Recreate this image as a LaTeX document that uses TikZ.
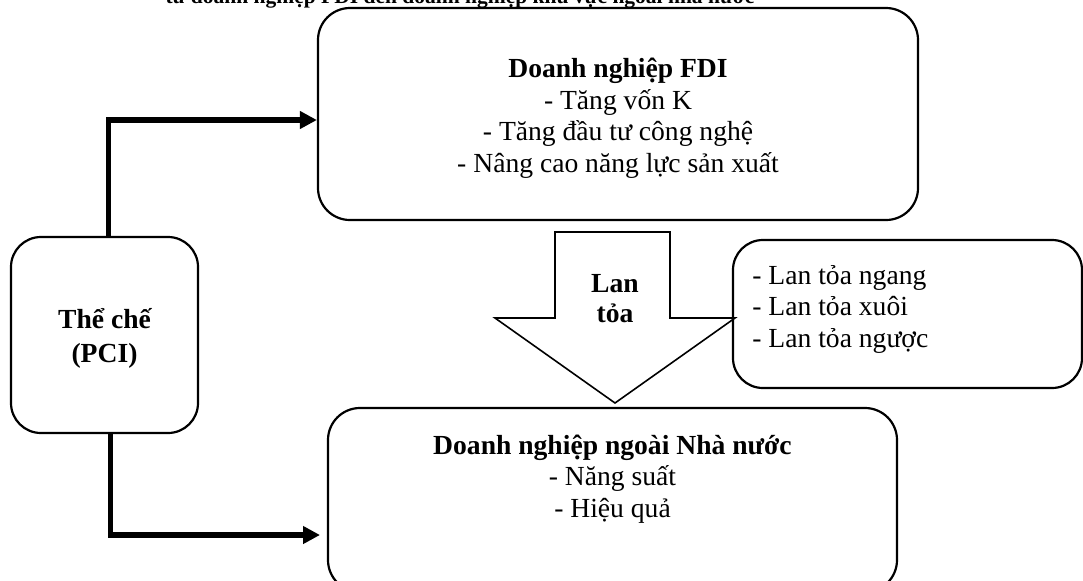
\documentclass[tikz,border=0pt]{standalone}
\usepackage{fontspec}
\setmainfont{Liberation Serif}
\usetikzlibrary{arrows.meta,fit}
\begin{document}
\begin{tikzpicture}[x=0.5pt,y=-0.5pt,
  box/.style={draw, line width=1.1pt, rounded corners=16pt, inner sep=0pt},
  txt/.style={font=\fontsize{13.8}{15.75}\selectfont, align=center, inner sep=0pt},
  link/.style={line width=2.6pt, -{Triangle[length=8.5pt,width=8.5pt]}},
  blockarrow/.style={draw, line width=0.8pt, line join=miter}
]
\useasboundingbox (0,0) rectangle (1083,580);
\clip (0,0) rectangle (1083,580);

% title (cut off at top)
\node[txt, anchor=base, font=\fontsize{10.75}{12}\selectfont\bfseries] (title) at (460,3)
  {từ doanh nghiệp FDI đến doanh nghiệp khu vực ngoài nhà nước};

% boxes
\node[box, fit={(318,8) (918,220)}] (fdi) {};
\node[box, fit={(11,237) (198,433)}, rounded corners=15pt] (inst) {};
\node[box, fit={(328,408) (897,592)}] (nn) {};
\node[box, fit={(733,240) (1082,388)}, rounded corners=15pt] (kinds) {};

% texts (base anchor = baseline of the last line)
\node[txt, anchor=base] (fditxt) at (618,172)
  {\textbf{Doanh nghiệp FDI}\\- Tăng vốn K\\- Tăng đầu tư công nghệ\\- Nâng cao năng lực sản xuất};
\node[txt, anchor=base, font=\fontsize{13.8}{17}\selectfont\bfseries] (insttxt) at (104.5,362)
  {Thể chế\\(PCI)};
\node[txt, anchor=base] (nntxt) at (612.5,517)
  {\textbf{Doanh nghiệp ngoài Nhà nước}\\- Năng suất\\- Hiệu quả};
\node[txt, anchor=base west, align=left] (kindstxt) at (752,347)
  {- Lan tỏa ngang\\- Lan tỏa xuôi\\- Lan tỏa ngược};

% block arrow
\draw[blockarrow] (555,232) -- (670,232) -- (670,318) -- (735,318) -- (615,403)
  -- (495,318) -- (555,318) -- cycle;
\node[txt, anchor=base, font=\fontsize{13.8}{15}\selectfont\bfseries] (lan) at (615,322)
  {Lan\\tỏa};

% connectors
\coordinate (e2) at (320,535);
\draw[link] ([xshift=2pt]inst.north) |- ([yshift=-3pt]fdi.west);
\draw[link] ([xshift=3pt]inst.south) |- (e2);
\end{tikzpicture}
\end{document}
